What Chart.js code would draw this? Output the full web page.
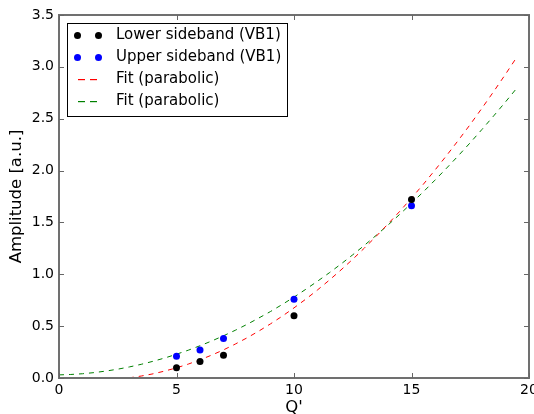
<!DOCTYPE html>
<html>
<head>
<meta charset="utf-8">
<script src="https://cdn.jsdelivr.net/npm/chart.js@4/dist/chart.umd.min.js"></script>
<style>
  html, body { margin: 0; padding: 0; background: #fff; overflow: hidden; }
  #wrap { width: 534px; height: 414px; }
</style>
</head>
<body>
<div id="wrap"><canvas id="myChart" width="534" height="414"></canvas></div>
<script>
// measured sidebands
var qValues = [5, 6, 7, 10, 15];
var lowerAmp = [0.10, 0.16, 0.22, 0.60, 1.72];
var upperAmp = [0.21, 0.27, 0.38, 0.76, 1.66];

// parabolic fit curves, sampled every 0.5
var fitQ = [0, 0.5, 1, 1.5, 2, 2.5, 3, 3.5, 4, 4.5, 5, 5.5, 6, 6.5, 7, 7.5, 8, 8.5, 9, 9.5,
    10, 10.5, 11, 11.5, 12, 12.5, 13, 13.5, 14, 14.5, 15, 15.5, 16, 16.5, 17, 17.5, 18, 18.5, 19, 19.5];
var fitLower = [0.002, -0.010, -0.018, -0.020, -0.018, -0.010, 0.002, 0.019, 0.040, 0.067,
    0.098, 0.134, 0.175, 0.221, 0.271, 0.327, 0.387, 0.452, 0.522, 0.596,
    0.676, 0.760, 0.849, 0.943, 1.042, 1.145, 1.254, 1.367, 1.485, 1.607,
    1.735, 1.867, 2.005, 2.147, 2.294, 2.445, 2.602, 2.763, 2.929, 3.100];
var fitUpper = [0.030, 0.034, 0.041, 0.052, 0.067, 0.085, 0.107, 0.132, 0.161, 0.193,
    0.229, 0.268, 0.311, 0.357, 0.407, 0.460, 0.517, 0.578, 0.641, 0.709,
    0.780, 0.855, 0.933, 1.014, 1.099, 1.188, 1.280, 1.376, 1.475, 1.578,
    1.685, 1.794, 1.908, 2.025, 2.145, 2.269, 2.397, 2.528, 2.662, 2.800];

var xTicks = [0, 5, 10, 15, 20];
var yTicks = [0, 0.5, 1.0, 1.5, 2.0, 2.5, 3.0, 3.5];

var legendLabels = ['Lower sideband (VB1)', 'Upper sideband (VB1)', 'Fit (parabolic)', 'Fit (parabolic)'];
var colors = ['#000000', '#0000ff', '#ff0000', '#008000'];

function toPoints(xs, ys) {
    var pts = [];
    for (var i = 0; i < xs.length; i++) {
        pts.push({ x: xs[i], y: ys[i] });
    }
    return pts;
}

var TICK_FONT = { family: 'DejaVu Sans', size: 14 };
var TITLE_FONT = { family: 'DejaVu Sans', size: 16.5 };

// frame with inward ticks and the boxed legend inside the axes
var framePlugin = {
    id: 'frame',
    afterDraw: function (chart) {
        var ctx = chart.ctx;
        var a = chart.chartArea;
        var xs = chart.scales.x, ys = chart.scales.y;
        ctx.save();
        ctx.setLineDash([]);
        ctx.strokeStyle = '#707070';
        ctx.lineWidth = 2;
        ctx.strokeRect(a.left, a.top, a.right - a.left, a.bottom - a.top);
        ctx.lineWidth = 1;
        ctx.strokeStyle = '#666';
        ctx.beginPath();
        xTicks.forEach(function (v) {
            var px = Math.round(xs.getPixelForValue(v)) + 0.5;
            ctx.moveTo(px, a.bottom); ctx.lineTo(px, a.bottom - 5);
            ctx.moveTo(px, a.top); ctx.lineTo(px, a.top + 5);
        });
        yTicks.forEach(function (v) {
            var py = Math.round(ys.getPixelForValue(v)) + 0.5;
            ctx.moveTo(a.left, py); ctx.lineTo(a.left + 5, py);
            ctx.moveTo(a.right, py); ctx.lineTo(a.right - 5, py);
        });
        ctx.stroke();

        // legend
        var bx = 67.5, by = 23.5, bw = 220, bh = 93;
        ctx.fillStyle = '#fff';
        ctx.fillRect(bx, by, bw, bh);
        ctx.strokeStyle = '#000';
        ctx.lineWidth = 1;
        ctx.strokeRect(bx, by, bw, bh);
        var rows = [35.5, 57.5, 79.5, 101];
        ctx.font = '15px DejaVu Sans';
        ctx.textBaseline = 'middle';
        ctx.textAlign = 'left';
        for (var i = 0; i < 4; i++) {
            var y = rows[i];
            if (i >= 2) {
                // short dashed sample of the fit line
                ctx.fillStyle = colors[i];
                ctx.fillRect(78, Math.floor(y), 7, 1.2);
                ctx.fillRect(90, Math.floor(y), 7, 1.2);
            } else {
                ctx.fillStyle = colors[i];
                [77.5, 98.5].forEach(function (mx) {
                    ctx.beginPath();
                    ctx.arc(mx, y, 3.5, 0, Math.PI * 2);
                    ctx.fill();
                });
            }
            ctx.fillStyle = '#000';
            ctx.fillText(legendLabels[i], 116, y);
        }
        ctx.restore();
    }
};

const config = {
    type: 'scatter',
    data: {
        datasets: [
            { label: legendLabels[0], data: toPoints(qValues, lowerAmp), backgroundColor: colors[0], borderColor: colors[0], pointRadius: 3.5, pointBorderWidth: 0 },
            { label: legendLabels[1], data: toPoints(qValues, upperAmp), backgroundColor: colors[1], borderColor: colors[1], pointRadius: 3.5, pointBorderWidth: 0 },
            { label: legendLabels[2], data: toPoints(fitQ, fitLower), showLine: true, borderColor: colors[2], backgroundColor: colors[2], borderWidth: 1, borderDash: [5, 5], pointRadius: 0 },
            { label: legendLabels[3], data: toPoints(fitQ, fitUpper), showLine: true, borderColor: colors[3], backgroundColor: colors[3], borderWidth: 1, borderDash: [5, 5], pointRadius: 0 }
        ]
    },
    options: {
        responsive: false,
        animation: false,
        events: [],
        layout: { padding: { left: 0, right: 5, top: 15, bottom: 0 } },
        plugins: {
            legend: { display: false },
            tooltip: { enabled: false }
        },
        scales: {
            x: {
                type: 'linear',
                min: 0,
                max: 20,
                afterBuildTicks: function (scale) {
                    scale.ticks = xTicks.map(function (v) { return { value: v }; });
                },
                afterFit: function (scale) {
                    scale.paddingLeft = 0;
                    scale.paddingRight = 0;
                    scale.height = 36;
                },
                grid: { display: false, drawTicks: false },
                border: { display: false },
                ticks: { color: '#000', font: TICK_FONT, padding: 4, maxRotation: 0 },
                title: { display: true, text: "Q'", color: '#000', font: { family: 'DejaVu Sans', size: 16.5, lineHeight: 0.75 }, padding: 0 }
            },
            y: {
                type: 'linear',
                min: 0,
                max: 3.5,
                afterBuildTicks: function (scale) {
                    scale.ticks = yTicks.map(function (v) { return { value: v }; });
                },
                afterFit: function (scale) {
                    scale.paddingTop = 0;
                    scale.paddingBottom = 0;
                    scale.width = 59;
                },
                grid: { display: false, drawTicks: false },
                border: { display: false },
                ticks: {
                    color: '#000', font: TICK_FONT, padding: 5,
                    callback: function (v) { return v.toFixed(1); }
                },
                title: { display: true, text: 'Amplitude [a.u.]', color: '#000', font: TITLE_FONT, padding: { top: 7, bottom: 0 } }
            }
        }
    },
    plugins: [framePlugin]
};

const ctx = document.getElementById('myChart');
new Chart(ctx, config);
</script>
</body>
</html>
